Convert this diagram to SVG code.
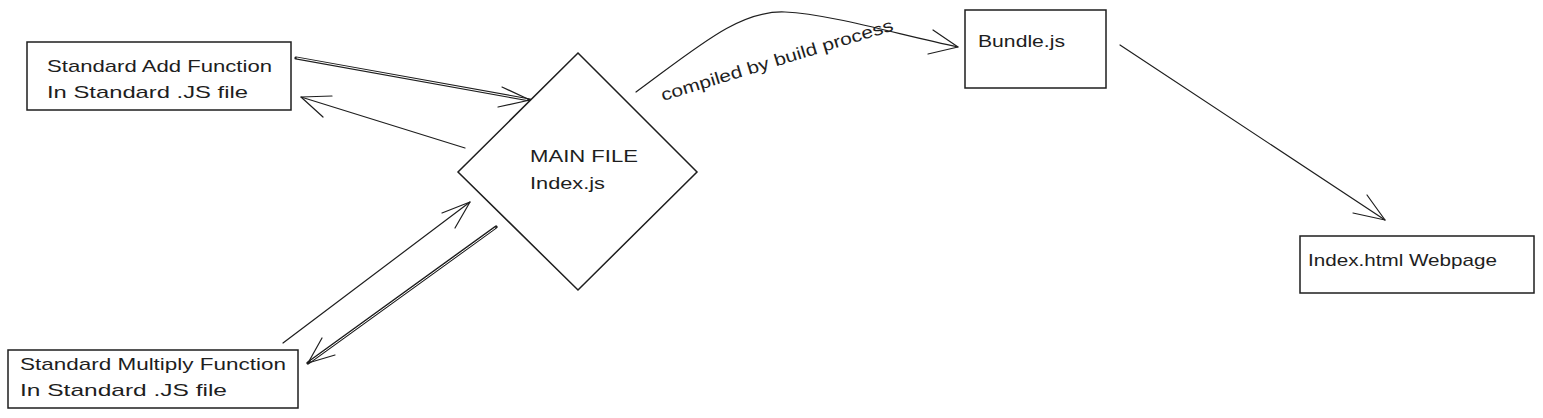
<svg xmlns="http://www.w3.org/2000/svg" width="1543" height="418" viewBox="0 0 1543 418">
<style>
.box{fill:#fff;stroke:#1e1e1e;stroke-width:1.5}
.t{font-family:"Liberation Sans",Arial,sans-serif;font-size:17px;fill:#1e1e1e}
.c{fill:none;stroke:#1e1e1e;stroke-width:1.2;stroke-linecap:round;stroke-linejoin:round}
.d{fill:none;stroke:#1e1e1e;stroke-width:3.2;stroke-linecap:round}
.dw{fill:none;stroke:#fff;stroke-width:1;stroke-linecap:round}
</style>
<rect width="1543" height="418" fill="#fff"/>
<g id="connectors">
  <!-- add -> main (double line) -->
  <path class="d" d="M296 58 L530 100"/>
  <path class="dw" d="M297 58 L527 99.5"/>
  <path class="c" d="M502 87 L530 100 L498 107"/>
  <!-- main -> add -->
  <path class="c" d="M465 148 L301 97" stroke-width="1.6"/>
  <path class="c" d="M332 96 L301 97 L323 117"/>
  <!-- multiply -> main -->
  <path class="c" d="M283 343 L470 202" stroke-width="1.6"/>
  <path class="c" d="M442 213 L470 202 L455 228"/>
  <!-- main -> multiply (double line) -->
  <path class="d" d="M496 227 L308 363"/>
  <path class="dw" d="M495 228 L311 361"/>
  <path class="c" d="M322 338 L308 363 L335 355"/>
  <!-- compiled curve -->
  <path class="c" d="M636 92 C700 45 740 10 785 12 C830 14 900 35 958 47" stroke-width="1.8"/>
  <path class="c" d="M933 30 L958 47 L928 54"/>
  <!-- bundle -> html -->
  <path class="c" d="M1120 45 L1385 220"/>
  <path class="c" d="M1367 195 L1385 220 L1353 213"/>
  <text class="t" transform="translate(663 101) rotate(-17)" textLength="242" lengthAdjust="spacingAndGlyphs">compiled by build process</text>
</g>
<g id="add">
  <rect class="box" x="27" y="42" width="264" height="68"/>
  <text class="t" x="47" y="72" textLength="225" lengthAdjust="spacingAndGlyphs">Standard Add Function</text>
  <text class="t" x="47" y="98" textLength="201" lengthAdjust="spacingAndGlyphs">In Standard .JS file</text>
</g>
<g id="main">
  <polygon class="box" points="578,53 697,172 578,290 458,172"/>
  <text class="t" x="530" y="162" textLength="108" lengthAdjust="spacingAndGlyphs">MAIN FILE</text>
  <text class="t" x="530" y="189" textLength="75" lengthAdjust="spacingAndGlyphs">Index.js</text>
</g>
<g id="bundle">
  <rect class="box" x="965" y="10" width="141" height="78"/>
  <text class="t" x="978" y="47" textLength="87" lengthAdjust="spacingAndGlyphs">Bundle.js</text>
</g>
<g id="html">
  <rect class="box" x="1300" y="236" width="234" height="57"/>
  <text class="t" x="1308" y="266" textLength="189" lengthAdjust="spacingAndGlyphs">Index.html Webpage</text>
</g>
<g id="multiply">
  <rect class="box" x="8" y="350" width="290" height="58"/>
  <text class="t" x="20" y="370" textLength="266" lengthAdjust="spacingAndGlyphs">Standard Multiply Function</text>
  <text class="t" x="20" y="396" textLength="207" lengthAdjust="spacingAndGlyphs">In Standard .JS file</text>
</g>
</svg>
